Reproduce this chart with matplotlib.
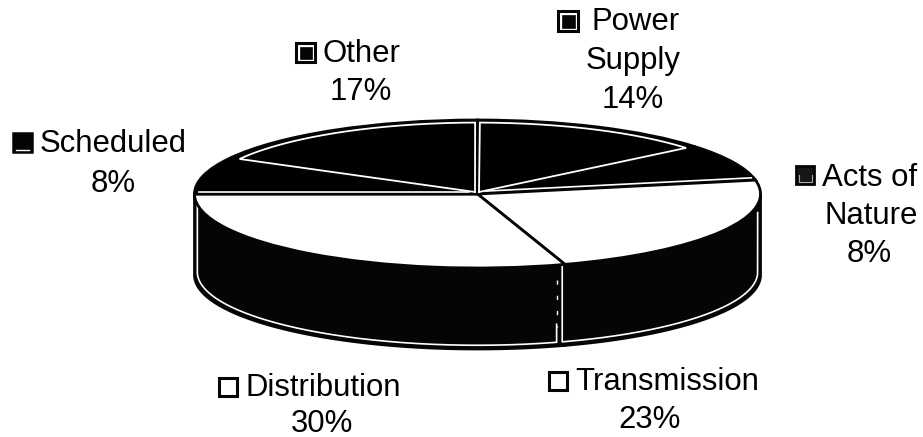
import numpy as np
import matplotlib
matplotlib.use("Agg")
import matplotlib.pyplot as plt
from matplotlib.patches import Rectangle, Polygon

plt.rcParams['font.family'] = ['Liberation Sans', 'DejaVu Sans']

# Data, clockwise from 12 o'clock
categories = ["Power Supply", "Acts of Nature", "Transmission", "Distribution", "Scheduled", "Other"]
values = [14, 8, 23, 30, 8, 17]
top_colors = ["black", "black", "white", "white", "black", "black"]

W, H = 923, 437
CX, CY, RX, RY, DEPTH = 477.5, 194.0, 283.0, 74.0, 81.0
INK = "#050505"

fig = plt.figure(figsize=(W / 100, H / 100), dpi=100, facecolor="white")

# Pie axes: the unit circle appears as the flattened ellipse
ax = fig.add_axes([0, 0, 1, 1])
ax.pie(values, startangle=90, counterclock=False, radius=1, colors=top_colors,
       wedgeprops=dict(edgecolor=INK, linewidth=2.0, zorder=5))
ax.set_aspect("auto")
ax.set_xlim(-CX / RX, (W - CX) / RX)
ax.set_ylim((CY - H) / RY, CY / RY)
ax.axis("off")

edges = np.cumsum([0] + values) / sum(values) * 360.0
dy = lambda px: px / RY
dx = lambda px: px / RX
depth = dy(DEPTH)


def arc(t0, t1, r=1.0, n=200):
    t = np.radians(np.linspace(t0, t1, n))
    return r * np.sin(t), r * np.cos(t)


# Side walls (only the front half of the rim shows)
for i, (a, b) in enumerate(zip(edges[:-1], edges[1:])):
    lo, hi = max(a, 90), min(b, 270)
    if hi <= lo:
        continue
    x, y = arc(lo, hi)
    ax.add_patch(Polygon(np.r_[np.c_[x, y], np.c_[x[::-1], y[::-1] - depth]],
                         closed=True, fc=INK, ec=INK, lw=2.0, zorder=2, joinstyle="round"))


# White inset lines on the side walls
def wall_inset(lo, hi, off_lo, off_hi):
    x, y = arc(lo, hi, r=0.99)
    yb = y - depth + dy(3.0)
    xs = np.r_[x[0], x, x[-1]]
    ys = np.r_[y[0] - dy(off_lo), yb, y[-1] - dy(off_hi)]
    ax.plot(xs, ys, color="white", lw=1.2, zorder=3, solid_joinstyle="round")


wall_inset(90.5, edges[3] + 0.4, 18, 3)        # Transmission wall
wall_inset(edges[3] + 1.6, 269.5, 60, 7)       # Distribution wall

# Broken white line at the right end of the Distribution wall
t_div = np.radians(edges[3] + 1.6)
ax.plot([0.99 * np.sin(t_div)] * 2,
        [np.cos(t_div) - dy(15), np.cos(t_div) - dy(62)],
        color="white", lw=1.0, zorder=3, ls=(0, (3, 8)))


# White inset outlines on the dark top slices
def top_inset(i, trim_a, trim_b, shift):
    x, y = arc(edges[i] + trim_a, edges[i + 1] - trim_b, r=0.965)
    xs = np.r_[dx(shift), x, dx(shift)]
    ys = np.r_[dy(2), y, dy(2)]
    ax.plot(xs, ys, color="white", lw=1.3, zorder=7, solid_joinstyle="miter")


top_inset(0, 0.5, 0.6, 1.5)     # Power Supply
top_inset(5, 0.6, 0.5, -2.5)    # Other


# White line along the lower radial edge of the Acts of Nature and Scheduled slices
def radial_line(theta, start, stop, lift):
    t = np.radians(theta)
    ax.plot([start * np.sin(t), stop * np.sin(t)],
            [start * np.cos(t) + dy(lift), stop * np.cos(t) + dy(lift)],
            color="white", lw=1.2, zorder=7)


radial_line(edges[2], 0.03, 0.985, 2.5)
radial_line(edges[4], 0.03, 0.985, 2.5)

# Overlay axes in picture pixels for the labels and their keys
ov = fig.add_axes([0, 0, 1, 1])
ov.set_xlim(0, W)
ov.set_ylim(H, 0)
ov.axis("off")
ov.patch.set_alpha(0)

FS = 22.4
pct = {c: f"{v}%" for c, v in zip(categories, values)}


def txt(x, y, s, ha="center"):
    ov.text(x, y, s, ha=ha, va="center_baseline", fontsize=FS, color="black")


def key(x, y, w, h, style):
    if style == "open":
        ov.add_patch(Rectangle((x, y), w, h, fc="white", ec=INK, lw=2.2))
    elif style == "framed":
        ov.add_patch(Rectangle((x, y), w, h, fc="white", ec=INK, lw=2.2))
        ov.add_patch(Rectangle((x + 3.5, y + 3.5), w - 7, h - 7, fc=INK, ec=INK, lw=0.5))
    elif style == "dark":
        ov.add_patch(Rectangle((x, y), w, h, fc="#161616", ec=INK, lw=2))
        ov.plot([x + 2.5, x + 2.5, x + w - 2.5, x + w - 2.5],
                [y + h - 9, y + h - 2.5, y + h - 2.5, y + h - 9], color="#aaaaaa", lw=0.8)
    else:
        ov.add_patch(Rectangle((x, y), w, h, fc=INK, ec=INK, lw=1.8))
        ov.plot([x + 3, x + w - 3], [y + h - 2.5, y + h - 2.5], color="white", lw=1)


key(558, 11, 20, 20, "framed")
txt(591, 19, "Power", ha="left")
txt(633, 58, "Supply")
txt(633, 97, pct["Power Supply"])

key(296, 43, 19, 19, "framed")
txt(323, 51, "Other", ha="left")
txt(361, 89, pct["Other"])

key(13, 133, 19, 19, "solid")
txt(40, 141, "Scheduled", ha="left")
txt(113, 181, pct["Scheduled"])

key(796, 166, 18, 18, "dark")
txt(822, 174, "Acts of", ha="left")
txt(871, 212, "Nature")
txt(869, 251, pct["Acts of Nature"])

key(219, 378, 18, 18, "open")
txt(245, 385, "Distribution", ha="left")
txt(322, 420, pct["Distribution"])

key(549, 372, 18, 18, "open")
txt(575, 379, "Transmission", ha="left")
txt(650, 416, pct["Transmission"])

fig.savefig("out.png", dpi=100, facecolor="white")
